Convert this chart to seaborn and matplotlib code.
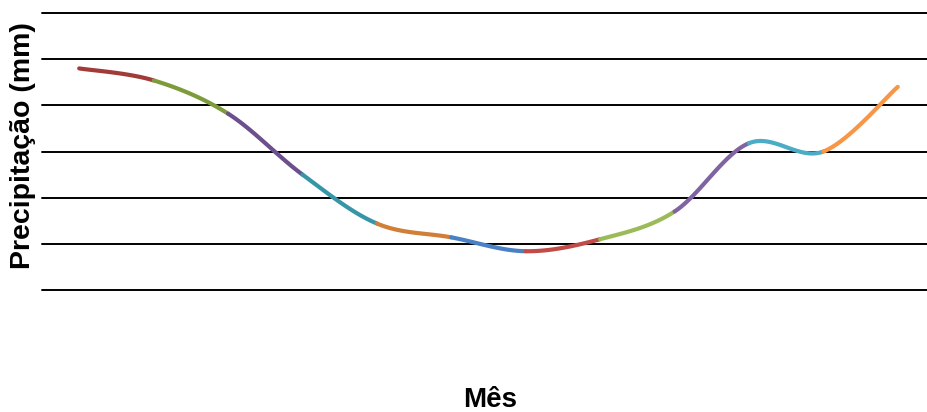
import numpy as np
import pandas as pd
import matplotlib
matplotlib.use("Agg")
import matplotlib.pyplot as plt
import seaborn as sns

# Monthly precipitation (mm)
meses = ["Jan", "Fev", "Mar", "Abr", "Mai", "Jun",
         "Jul", "Ago", "Set", "Out", "Nov", "Dez"]
precipitacao = [240, 227, 191, 125, 72, 57, 42, 55, 85, 159, 150, 220]

# One colour per month-to-month segment
cores = ["#A23B37", "#7E9B3C", "#6C4F8D", "#3795A8", "#D17E37", "#4A80C4",
         "#C04B47", "#9BBB59", "#8064A2", "#4BACC6", "#F79646"]

sns.set_theme(style="white")
plt.rcParams["font.family"] = ["Liberation Sans", "DejaVu Sans"]

fig = plt.figure(figsize=(9.27, 4.12), dpi=100)
ax = fig.add_axes([42 / 927, (412 - 290) / 412, (927 - 42) / 927, (290 - 13) / 412])

x = np.arange(len(meses), dtype=float)
y = np.array(precipitacao, dtype=float)


def smooth_segment(i, n=40):
    """Cubic Bezier between point i and i+1 (Catmull-Rom style tangents)."""
    p0 = np.array([x[max(i - 1, 0)], y[max(i - 1, 0)]])
    p1 = np.array([x[i], y[i]])
    p2 = np.array([x[i + 1], y[i + 1]])
    p3 = np.array([x[min(i + 2, len(x) - 1)], y[min(i + 2, len(x) - 1)]])
    c1 = p1 + (p2 - p0) / 6.0
    c2 = p2 - (p3 - p1) / 6.0
    t = np.linspace(0, 1, n)[:, None]
    pts = ((1 - t) ** 3) * p1 + 3 * ((1 - t) ** 2) * t * c1 + 3 * (1 - t) * t ** 2 * c2 + t ** 3 * p2
    return pts[:, 0], pts[:, 1]


for i in range(len(meses) - 1):
    sx, sy = smooth_segment(i)
    seg = pd.DataFrame({"x": sx, "y": sy})
    sns.lineplot(data=seg, x="x", y="y", ax=ax, color=cores[i], linewidth=3.0,
                 sort=False, solid_capstyle="round", zorder=3)

# horizontal gridlines every 50 mm
ax.set_ylim(0, 300)
ax.set_yticks(np.arange(0, 301, 50))
ax.yaxis.grid(True, color="black", linewidth=1.4)
for gl in ax.get_ygridlines():
    gl.set_clip_on(False)
ax.set_axisbelow(True)
ax.set_xlim(-0.5, 11.5 - 8 / 74.55)
ax.set_xticks(x)
ax.tick_params(left=False, bottom=False, labelleft=False, labelbottom=False)
for s in ax.spines.values():
    s.set_visible(False)

ax.set_xlabel("")
ax.set_ylabel("")
fig.text(490 / 927, 1 - 400 / 412, "Mês", ha="center", va="center",
         fontsize=20, fontweight="bold", color="black")
fig.text(23 / 927, 1 - 146 / 412, "Precipitação (mm)", ha="center", va="center",
         rotation=90, fontsize=20.5, fontweight="bold", color="black")

fig.savefig("out.png", dpi=100, facecolor="white")
